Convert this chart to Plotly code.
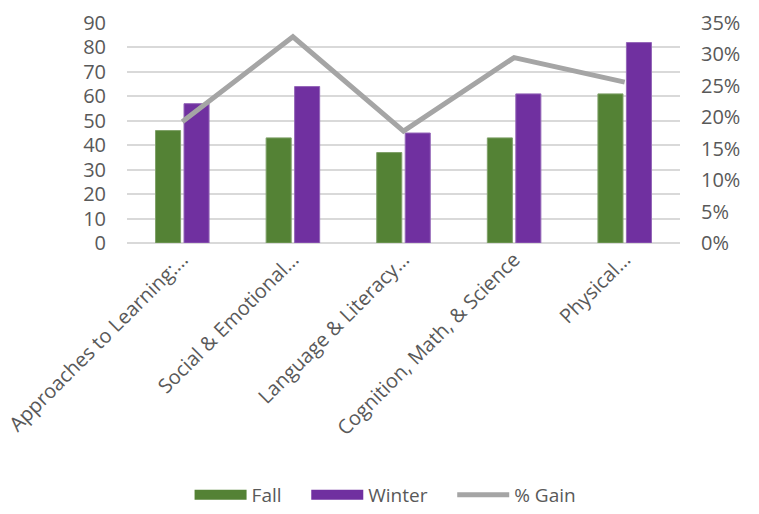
import plotly.graph_objects as go

# Domain scores by assessment period
categories = [
    "Approaches to Learning:…",
    "Social & Emotional…",
    "Language & Literacy…",
    "Cognition, Math, & Science",
    "Physical…",
]
fall = [46, 43, 37, 43, 61]
winter = [57, 64, 45, 61, 82]
pct_gain = [0.193, 0.328, 0.178, 0.295, 0.256]

FONT = "Open Sans"
TXT = "#595959"
GREEN = "#548235"
PURPLE = "#7030A0"
GRAY = "#A5A5A5"

fig = go.Figure()
fig.add_trace(go.Bar(
    x=categories, y=fall, name="Fall", showlegend=False,
    marker=dict(color=GREEN, line=dict(color="#7fa168", width=1)),
))
fig.add_trace(go.Bar(
    x=categories, y=winter, name="Winter", showlegend=False,
    marker=dict(color=PURPLE, line=dict(color="#9466b8", width=1)),
))
fig.add_trace(go.Scatter(
    x=categories, y=pct_gain, name="% Gain", yaxis="y2", showlegend=False,
    mode="lines", line=dict(color=GRAY, width=5),
))

# Legend entries drawn as wide swatches; padded labels space the entries out
PAD = "\u00a0" * 4
for name, color, width in [("Fall", GREEN, 14), ("Winter", PURPLE, 14), ("% Gain", GRAY, 5)]:
    fig.add_trace(go.Scatter(
        x=[None], y=[None], name=name + PAD if name != "% Gain" else name,
        mode="lines", line=dict(color=color, width=width),
    ))

fig.update_layout(
    width=759, height=514,
    margin=dict(l=127, r=79, t=23, b=271, autoexpand=False),
    paper_bgcolor="white", plot_bgcolor="white",
    barmode="group", bargap=0.485, bargroupgap=0.12,
    font=dict(family=FONT, color=TXT),
    xaxis=dict(
        tickangle=-45, tickfont=dict(size=20, color=TXT),
        showgrid=False, showline=False, ticks="", automargin=False,
    ),
    yaxis=dict(
        range=[0, 90], dtick=10, tickfont=dict(size=20, color=TXT),
        gridcolor="#D9D9D9", gridwidth=1.5, zeroline=True,
        zerolinecolor="#D9D9D9", zerolinewidth=1.5, ticks="",
        ticklabelstandoff=20, automargin=False,
    ),
    yaxis2=dict(
        range=[0, 0.35], dtick=0.05, tickformat=".0%", overlaying="y",
        side="right", showgrid=False, zeroline=False,
        tickfont=dict(size=20, color=TXT), ticks="",
        ticklabelstandoff=20, automargin=False,
    ),
    legend=dict(
        orientation="h", xref="container", yref="container",
        x=0.508, xanchor="center", y=0.0, yanchor="bottom",
        font=dict(size=19, color=TXT), itemwidth=52,
    ),
)

fig.write_html("out.html")
